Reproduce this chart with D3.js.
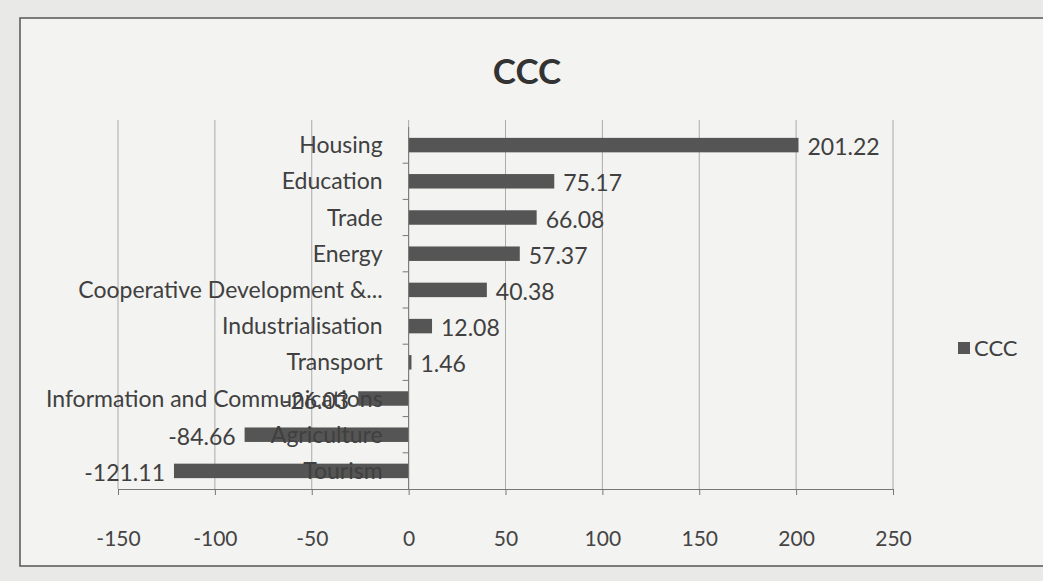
<!DOCTYPE html>
<html>
<head>
<meta charset="utf-8">
<script src="https://cdn.jsdelivr.net/npm/d3@7"></script>
<style>
  body { margin: 0; background: #e9e9e7; }
  text { font-family: Lato, "Open Sans", sans-serif; }
</style>
</head>
<body>
<script>
// data, top to bottom as printed
const categories = ["Housing", "Education", "Trade", "Energy", "Cooperative Development  &...",
    "Industrialisation", "Transport", "Information and Communications", "Agriculture", "Tourism"];
const values = [201.22, 75.17, 66.08, 57.37, 40.38, 12.08, 1.46, -26.03, -84.66, -121.11];
const xTicks = [-150, -100, -50, 0, 50, 100, 150, 200, 250];
const seriesName = "CCC";

const width = 1043, height = 581;
const svg = d3.select("body").append("svg")
    .attr("width", width)
    .attr("height", height);

const hyphen = s => s.replace("\u2212", "-");

// chart frame
svg.append("rect")
    .attr("x", 20).attr("y", 18)
    .attr("width", 1040).attr("height", 548)
    .attr("fill", "#f3f3f1")
    .attr("stroke", "#555")
    .attr("stroke-width", 1.5);

svg.append("text")
    .attr("x", 527).attr("y", 84)
    .attr("text-anchor", "middle")
    .attr("font-size", 35)
    .attr("font-weight", "bold")
    .attr("fill", "#333")
    .text("CCC");

const x = d3.scaleLinear().domain([-150, 250]).range([118, 893]);
const y = d3.scaleBand().domain(categories).range([127, 489]).paddingInner(0.6).paddingOuter(0.3);
const band = d3.scaleBand().domain(categories).range([127, 489]);

// gridlines
svg.append("g")
    .selectAll("line")
    .data(xTicks)
    .join("line")
    .attr("x1", d => x(d)).attr("x2", d => x(d))
    .attr("y1", 120).attr("y2", 489)
    .attr("stroke", "#aaa")
    .attr("stroke-width", 1);

// x axis
const xAxis = svg.append("g")
    .attr("transform", "translate(0,489)")
    .call(d3.axisBottom(x).tickValues(xTicks).tickSize(6).tickPadding(36)
        .tickFormat(d => hyphen(d3.format("d")(d))));
xAxis.select(".domain").attr("stroke", "#777");
xAxis.selectAll(".tick line").attr("stroke", "#777");
xAxis.selectAll("text").attr("font-size", 21).attr("fill", "#444")
    .style("font-family", "Lato, sans-serif");

// bars
svg.append("g")
    .selectAll("rect")
    .data(values)
    .join("rect")
    .attr("x", d => x(Math.min(0, d)))
    .attr("y", (d, i) => y(categories[i]))
    .attr("width", d => Math.abs(x(d) - x(0)))
    .attr("height", y.bandwidth())
    .attr("fill", "#555");

// y axis line and ticks between categories
svg.append("line")
    .attr("x1", x(0)).attr("x2", x(0))
    .attr("y1", 127).attr("y2", 489)
    .attr("stroke", "#777");
svg.append("g")
    .selectAll("line")
    .data(categories.slice(1))
    .join("line")
    .attr("x1", x(0) - 6).attr("x2", x(0))
    .attr("y1", d => band(d)).attr("y2", d => band(d))
    .attr("stroke", "#777");

// category labels next to axis
svg.append("g")
    .selectAll("text")
    .data(categories)
    .join("text")
    .attr("x", x(0) - 26)
    .attr("y", d => band(d) + band.bandwidth() / 2)
    .attr("dy", "0.35em")
    .attr("text-anchor", "end")
    .attr("font-size", 23)
    .attr("fill", "#404040")
    .text(d => d);

// value labels
svg.append("g")
    .selectAll("text")
    .data(values)
    .join("text")
    .attr("x", d => d >= 0 ? x(d) + 9 : x(d) - 9)
    .attr("y", (d, i) => band(categories[i]) + band.bandwidth() / 2 + 2)
    .attr("dy", "0.35em")
    .attr("text-anchor", d => d >= 0 ? "start" : "end")
    .attr("font-size", 23)
    .attr("fill", "#404040")
    .text(d => hyphen(d3.format(".2f")(d)));

// legend
svg.append("rect")
    .attr("x", 958).attr("y", 342)
    .attr("width", 12).attr("height", 12)
    .attr("fill", "#555");
svg.append("text")
    .attr("x", 974).attr("y", 348)
    .attr("dy", "0.35em")
    .attr("font-size", 22)
    .attr("fill", "#404040")
    .text(seriesName);
</script>
</body>
</html>
